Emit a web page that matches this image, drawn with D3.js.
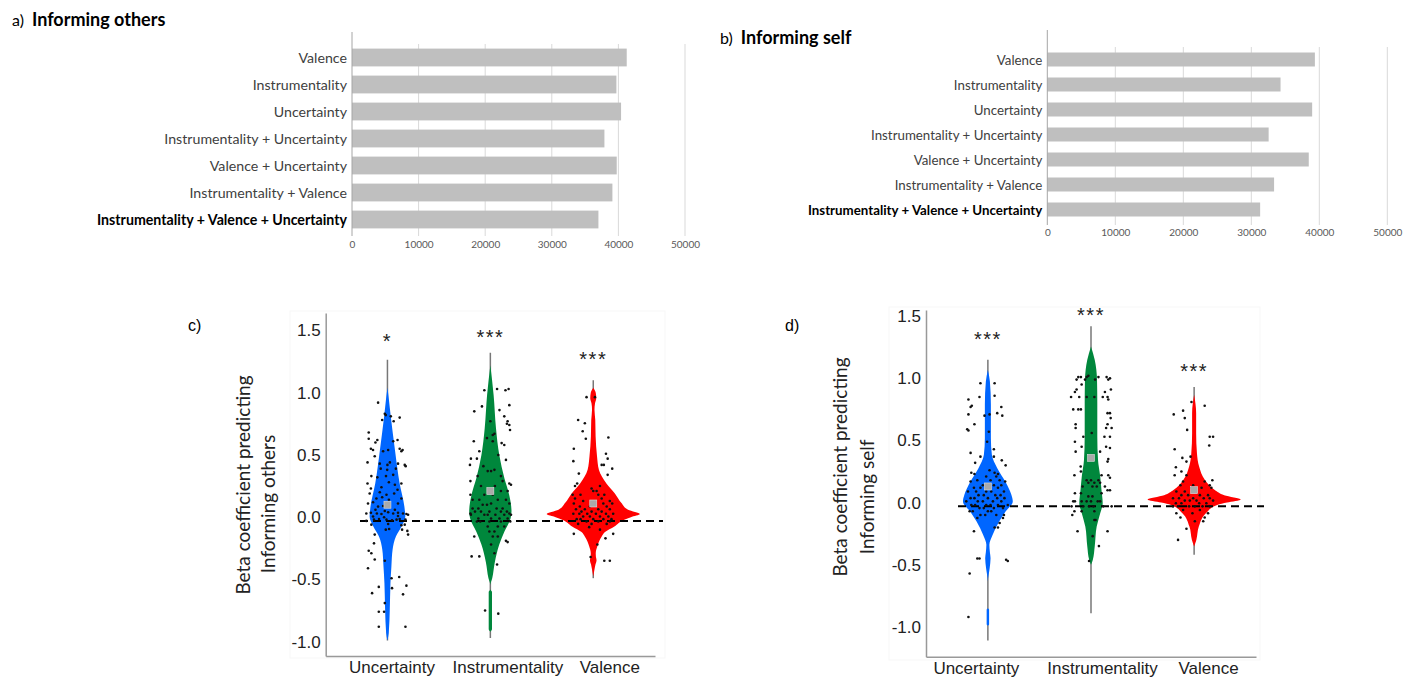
<!DOCTYPE html>
<html>
<head>
<meta charset="utf-8">
<script src="https://cdn.jsdelivr.net/npm/d3@7"></script>
<style>
  body { margin: 0; background: #fff; }
  svg { display: block; font-family: Lato, "Liberation Sans", sans-serif; }
</style>
</head>
<body>
<svg id="chart" width="1403" height="678"></svg>
<script>
// ---- data: model fit (panels a, b) ----
const models = ['Valence', 'Instrumentality', 'Uncertainty', 'Instrumentality + Uncertainty',
  'Valence + Uncertainty', 'Instrumentality + Valence', 'Instrumentality + Valence + Uncertainty'];
const fitOthers = [41250, 39700, 40400, 37900, 39750, 39100, 37000];
const fitSelf = [39350, 34300, 38950, 32550, 38450, 33350, 31300];
const fitTicks = [0, 10000, 20000, 30000, 40000, 50000];

// ---- data: beta coefficients (panels c, d) ----
const predictors = ['Uncertainty', 'Instrumentality', 'Valence'];
const betaTicks = [-1.0, -0.5, 0, 0.5, 1.0, 1.5];
const refBeta = -0.03;
const meansOthers = [0.10, 0.21, 0.11];
const meansSelf = [0.13, 0.36, 0.10];
const rangeOthers = [[-0.99, 1.265], [-0.97, 1.32], [-0.49, 1.10]];
const rangeSelf = [[-1.11, 1.15], [-0.89, 1.42], [-0.42, 0.93]];
const starsOthers = ['*', '***', '***'];
const starsSelf = ['***', '***', '***'];
const starBetaOthers = [1.45, 1.48, 1.30];
const starBetaSelf = [1.35, 1.54, 1.095];

// violin outlines: [beta, relative density]
const densOthersUnc = [[1.04,0],[0.95,0.03],[0.81,0.07],[0.54,0.16],[0.27,0.26],[0.085,0.36],[0.005,0.38],[-0.075,0.30],[-0.155,0.18],[-0.26,0.11],[-0.39,0.085],[-0.53,0.064],[-0.74,0.05],[-0.93,0.028],[-0.99,0]];
const densOthersIns = [[1.22,0],[0.98,0.07],[0.715,0.12],[0.50,0.19],[0.31,0.30],[0.18,0.40],[0.045,0.45],[-0.01,0.43],[-0.115,0.30],[-0.22,0.19],[-0.36,0.096],[-0.49,0.04],[-0.545,0],[-0.58,0],[-0.6,0.035],[-0.9,0.035],[-0.92,0]];
const densOthersVal = [[1.04,0],[1.0,0.053],[0.956,0.064],[0.916,0.038],[0.863,0.026],[0.78,0.043],[0.65,0.05],[0.49,0.08],[0.38,0.12],[0.27,0.28],[0.19,0.46],[0.113,0.6],[0.06,0.74],[0.025,0.99],[0.0,0.8],[-0.02,0.66],[-0.074,0.45],[-0.12,0.25],[-0.155,0.18],[-0.236,0.085],[-0.29,0.053],[-0.32,0.057],[-0.345,0.07],[-0.38,0.047],[-0.42,0.026],[-0.476,0]];
const densSelfUnc = [[1.07,0],[0.975,0.043],[0.79,0.064],[0.52,0.064],[0.385,0.085],[0.277,0.2],[0.17,0.37],[0.063,0.5],[0.009,0.53],[-0.07,0.38],[-0.153,0.24],[-0.26,0.1],[-0.34,0.032],[-0.40,0.043],[-0.447,0.057],[-0.528,0.038],[-0.636,0],[-0.85,0],[-0.86,0.026],[-0.98,0.026],[-0.99,0]];
const densSelfIns = [[1.256,0],[1.149,0.079],[0.988,0.128],[0.8,0.134],[0.532,0.134],[0.344,0.149],[0.21,0.196],[0.102,0.223],[-0.005,0.249],[-0.086,0.196],[-0.193,0.121],[-0.354,0.079],[-0.461,0.038],[-0.5,0]];
const densSelfVal = [[0.867,0],[0.72,0.043],[0.558,0.043],[0.397,0.06],[0.29,0.106],[0.182,0.23],[0.102,0.44],[0.06,0.64],[0.025,0.99],[0.0,0.7],[-0.019,0.49],[-0.086,0.25],[-0.193,0.1],[-0.3,0.047],[-0.354,0]];

// participants: [beta, jitter]
const ptsOthersUnc = [[0.92,-0.39],[0.83,-0.11],[0.82,-0.07],[0.81,0.14],[0.80,0.51],[0.78,-0.22],[0.77,0.26],[0.68,-0.78],
  [0.63,-0.78],[0.62,-0.42],[0.61,0.24],[0.62,0.42],[0.60,-0.5],[0.55,-0.69],[0.54,-0.6],[0.53,-0.18],[0.54,0.03],[0.55,0.51],[0.53,0.58],[0.54,0.63],
  [0.49,-0.53],[0.44,-0.83],[0.43,-0.32],[0.42,0],[0.44,0.1],[0.43,0.44],[0.42,0.72],[0.41,0.76],[0.39,-0.28],[0.38,-0.01],[0.39,0.35],
  [0.33,-0.67],[0.32,-0.42],[0.33,-0.06],[0.34,0.24],[0.27,-0.83],[0.28,0.06],[0.26,0.31],[0.27,0.58],[0.23,-0.69],[0.24,-0.25],[0.22,0.42],
  [0.19,-0.74],[0.20,-0.32],[0.18,-0.04],[0.19,0.28],[0.15,-0.46],[0.16,-0.22],[0.14,0.06],[0.15,0.58],[0.11,-0.81],[0.12,-0.6],[0.11,0.44],
  [0.085,-0.39],[0.09,-0.18],[0.06,-0.5],[0.05,-0.11],[0.06,0.31],[0.03,-0.88],[0.035,-0.69],[0.03,-0.44],[0.025,-0.25],[0.04,0.03],[0.03,0.24],[0.035,0.44],[0.03,0.65],[0.025,0.79],[0.02,0.86],
  [0.005,-0.6],[0.0,-0.14],[0.01,0.44],[-0.02,-0.56],[-0.015,-0.35],[-0.02,-0.04],[-0.025,0.19],[-0.02,0.38],[-0.015,0.51],[-0.02,0.75],[-0.03,-0.88],
  [-0.06,-0.67],[-0.055,0.03],[-0.065,0.58],[-0.06,0.72],[-0.10,-0.07],[-0.095,0.07],[-0.10,0.61],[-0.11,0.83],[-0.14,-0.53],[-0.14,0.86],
  [-0.21,-0.56],[-0.27,-0.78],[-0.29,-0.67],[-0.34,-0.53],[-0.35,-0.11],[-0.41,-0.81],[-0.49,0.17],[-0.48,0.49],[-0.56,-0.36],[-0.57,0.19],[-0.55,0.79],
  [-0.61,-0.64],[-0.62,0.65],[-0.69,-0.11],[-0.76,-0.36],[-0.76,-0.14],[-0.88,-0.36],[-0.88,0.75]];
const ptsOthersIns = [[1.02,-0.25],[1.03,0.28],[1.02,0.63],[1.03,0.76],[0.89,-0.35],[0.90,0.79],[0.86,0.38],[0.85,-0.67],[0.81,0.58],[0.77,0],[0.77,0.72],[0.74,0.79],[0.75,0.69],[0.70,0.82],
  [0.66,0.10],[0.67,0.17],[0.635,-0.14],[0.61,-0.69],[0.61,0.10],[0.595,0.47],[0.58,0.58],[0.53,-0.46],[0.50,0.33],[0.47,-0.81],[0.47,-0.56],[0.46,0.65],
  [0.42,-0.85],[0.41,-0.29],[0.37,-0.11],[0.37,0.03],[0.38,0.17],[0.33,-0.53],[0.33,0.44],[0.29,-0.83],[0.29,0.51],[0.27,0.79],[0.26,0.86],[0.25,-0.39],[0.25,0.19],
  [0.21,0.44],[0.21,0.72],[0.18,-0.83],[0.18,-0.25],[0.18,0.10],[0.14,-0.74],[0.14,-0.46],[0.14,0.31],[0.14,0.65],[0.11,0.03],[0.11,0.79],[0.10,-0.32],[0.10,-0.14],
  [0.07,-0.74],[0.07,-0.5],[0.07,0.26],[0.07,0.51],[0.045,-0.64],[0.045,-0.39],[0.045,-0.04],[0.045,0.44],[0.045,0.69],[0.03,-0.83],[0.03,0.79],
  [0.02,-0.81],[0.02,-0.25],[0.02,-0.11],[0.02,0.21],[0.02,0.58],[0.02,0.86],[-0.01,-0.5],[-0.01,0.03],[-0.01,0.38],[-0.01,0.72],
  [-0.035,-0.56],[-0.035,-0.42],[-0.035,-0.04],[-0.035,0.44],[-0.035,0.83],[-0.075,-0.11],[-0.075,0.31],[-0.075,0.58],[-0.115,-0.04],[-0.115,0.17],
  [-0.155,-0.67],[-0.155,0.10],[-0.155,0.31],[-0.19,0.65],[-0.20,0.72],[-0.22,0.03],[-0.29,0.17],[-0.315,-0.78],[-0.315,-0.46],[-0.38,0.28],[-0.75,-0.22],[-0.775,0.33]];
const ptsOthersVal = [[0.964,-0.28],[0.964,0.07],[0.78,-0.63],[0.755,-0.35],[0.69,-0.44],[0.64,0.63],[0.63,-0.31],[0.55,-0.81],[0.51,0.53],[0.47,0.6],[0.45,-0.83],[0.42,0.35],[0.42,0.44],[0.39,0.79],
  [0.35,-0.6],[0.34,0.6],[0.27,-0.67],[0.25,-0.76],[0.25,0.28],[0.23,-0.07],[0.21,0],[0.21,0.14],[0.18,-0.86],[0.18,-0.53],[0.18,0.21],[0.18,0.46],[0.15,-0.76],[0.15,0.35],[0.13,-0.42],[0.13,0.69],
  [0.11,-0.81],[0.11,0.07],[0.11,0.42],[0.11,0.79],[0.086,-0.56],[0.086,-0.14],[0.086,0.56],[0.064,-0.72],[0.064,-0.35],[0.064,0.21],[0.064,0.69],[0.045,-0.49],[0.045,-0.07],[0.045,0.35],
  [0.027,-0.83],[0.027,-0.58],[0.027,-0.25],[0.027,0.11],[0.027,0.53],[0.027,0.83],[0.005,-0.42],[0.005,-0.14],[0.005,0.28],[0.005,0.63],
  [-0.016,-0.69],[-0.016,-0.53],[-0.016,0],[-0.016,0.42],[-0.016,0.76],[-0.035,-0.28],[-0.035,0.21],[-0.035,0.69],[-0.054,-0.63],[-0.054,-0.07],[-0.054,0.56],
  [-0.08,-0.17],[-0.10,0.28],[-0.134,-0.81],[-0.134,0.83],[-0.17,0.51],[-0.22,0.17],[-0.32,-0.11],[-0.35,0.46],[-0.35,0.69]];
const ptsSelfUnc = [[0.96,-0.31],[0.96,0.28],[0.85,-0.35],[0.86,0.28],[0.83,-0.81],[0.77,-0.72],[0.78,-0.67],[0.77,0.56],[0.71,-0.81],[0.70,-0.14],[0.71,0.07],[0.72,0.39],[0.70,0.6],
  [0.63,-0.56],[0.59,-0.86],[0.58,-0.81],[0.57,0.04],[0.49,-0.03],[0.43,0.25],[0.40,-0.72],[0.37,-0.31],[0.37,0.25],[0.34,0.58],[0.32,-0.53],[0.30,0.74],[0.26,0.07],
  [0.24,-0.69],[0.23,-0.56],[0.24,0.28],[0.23,0.42],[0.21,-0.07],[0.21,0.35],[0.18,-0.44],[0.18,0.11],[0.18,0.49],[0.17,-0.72],[0.17,0.72],
  [0.14,-0.21],[0.14,0],[0.14,0.25],[0.14,0.56],[0.12,-0.58],[0.12,-0.31],[0.12,0.42],[0.09,-0.83],[0.09,-0.49],[0.09,-0.07],[0.09,0.14],[0.09,0.67],
  [0.06,-0.39],[0.06,-0.17],[0.06,0.31],[0.06,0.53],[0.036,-0.72],[0.036,-0.56],[0.036,0],[0.036,0.39],[0.036,0.69],[0.01,-0.9],[0.01,-0.42],[0.01,-0.21],[0.01,0.21],[0.01,0.56],
  [-0.02,-0.69],[-0.02,-0.53],[-0.02,-0.07],[-0.02,0.11],[-0.02,0.42],[-0.02,0.83],[-0.044,-0.35],[-0.044,-0.17],[-0.044,0.25],[-0.044,0.63],
  [-0.07,-0.76],[-0.07,-0.63],[-0.07,0],[-0.07,0.14],[-0.1,-0.31],[-0.1,-0.11],[-0.1,0.35],[-0.1,0.67],[-0.124,-0.44],[-0.124,0.63],[-0.164,0.49],
  [-0.2,0.28],[-0.2,0.42],[-0.23,-0.58],[-0.45,-0.44],[-0.45,-0.35],[-0.47,0.83],[-0.46,0.76],[-0.57,-0.76],[-0.92,-0.81]];
const ptsSelfIns = [[1.01,-0.53],[1.01,-0.42],[1.01,-0.18],[1.02,-0.11],[1.01,0.31],[1.01,0.65],[1.0,0.79],[0.99,-0.6],[0.99,-0.25],[0.99,0.17],[0.99,0.72],[0.95,-0.39],[0.91,-0.6],[0.91,0.83],[0.89,-0.67],[0.89,0.58],
  [0.85,-0.83],[0.85,-0.49],[0.85,-0.18],[0.85,0.14],[0.85,0.49],[0.85,0.69],[0.83,0.72],[0.75,-0.74],[0.75,-0.53],[0.75,-0.42],[0.72,0.69],[0.72,0.79],[0.68,0.82],
  [0.63,-0.64],[0.63,0.69],[0.60,-0.64],[0.60,0.63],[0.60,0.86],[0.56,0.03],[0.53,-0.32],[0.53,0.56],[0.53,0.79],[0.49,-0.67],[0.45,-0.39],[0.45,0.63],[0.44,0.79],[0.41,-0.64],[0.41,0.38],
  [0.35,0.72],[0.33,0.69],[0.29,-0.43],[0.25,-0.42],[0.22,-0.69],[0.22,0.44],[0.22,0.72],[0.20,0.79],[0.18,-0.18],[0.18,0],[0.18,0.31],[0.16,-0.11],[0.16,0.14],[0.16,0.38],
  [0.13,-0.35],[0.13,0.06],[0.13,0.24],[0.13,0.58],[0.10,0.69],[0.10,0.79],[0.075,-0.67],[0.075,-0.42],[0.075,0.44],[0.05,-0.11],[0.05,0.06],
  [0.01,-0.74],[0.01,-0.67],[0.01,-0.39],[0.01,-0.18],[0.01,0],[0.01,0.28],[0.01,0.38],[-0.03,-0.81],[-0.03,-0.32],[-0.03,-0.08],[-0.03,0.1],[-0.03,0.51],[-0.03,0.86],
  [-0.07,-0.69],[-0.07,-0.39],[-0.07,0.14],[-0.10,-0.78],[-0.14,0.14],[-0.14,0.19],[-0.23,-0.56],[-0.23,0.69],[-0.27,0.07],[-0.35,0.33],[-0.47,-0.08]];
const ptsSelfVal = [[0.81,-0.11],[0.78,0.44],[0.74,-0.46],[0.71,-0.85],[0.68,-0.39],[0.585,-0.29],[0.53,0.65],[0.53,0.79],[0.46,0.63],[0.43,-0.81],[0.37,-0.15],[0.36,-0.49],[0.33,-0.32],
  [0.285,-0.76],[0.25,-0.53],[0.22,-0.81],[0.22,-0.32],[0.18,0.76],[0.17,-0.46],[0.17,0.44],[0.14,-0.57],[0.14,-0.04],[0.14,0.65],[0.12,-0.11],[0.12,0.31],[0.12,0.72],
  [0.09,-0.74],[0.09,-0.39],[0.09,0.07],[0.06,-0.53],[0.06,-0.25],[0.06,0.24],[0.06,0.58],[0.035,-0.88],[0.035,-0.63],[0.035,-0.04],[0.035,0.4],[0.035,0.65],
  [0.016,-0.39],[0.016,-0.18],[0.016,0.1],[0.016,0.79],[-0.005,-0.76],[-0.005,-0.53],[-0.005,0.21],[-0.005,0.51],
  [-0.03,-0.88],[-0.03,-0.67],[-0.03,-0.21],[-0.03,0.03],[-0.03,0.35],[-0.03,0.65],[-0.06,-0.46],[-0.06,0.24],[-0.086,-0.74],[-0.086,-0.07],[-0.086,0.58],
  [-0.12,-0.57],[-0.12,0.44],[-0.15,0.03],[-0.15,0.38],[-0.21,-0.32],[-0.30,-0.67]];

const violinColors = ['#0066ff', '#00873c', '#ff0000'];

const svg = d3.select('#chart');

// horizontal bar chart of model fit
function drawBars(cfg, values) {
  const g = svg.append('g');
  const x = d3.scaleLinear().domain([0, 50000]).range([cfg.left, cfg.right]);
  const y = d3.scaleBand().domain(models).range([cfg.top, cfg.bottom])
    .paddingInner(cfg.padIn).paddingOuter(cfg.padOut);

  // vertical gridlines
  g.append('g').selectAll('line').data(fitTicks.slice(1)).join('line')
    .attr('x1', d => x(d)).attr('x2', d => x(d))
    .attr('y1', cfg.top).attr('y2', cfg.bottom + 3)
    .attr('stroke', '#d9d9d9');

  // bars
  g.append('g').selectAll('rect').data(values).join('rect')
    .attr('x', x(0))
    .attr('y', (d, i) => y(models[i]))
    .attr('width', d => x(d) - x(0))
    .attr('height', y.bandwidth())
    .attr('fill', '#bfbfbf');

  // category axis line
  g.append('line')
    .attr('x1', x(0)).attr('x2', x(0))
    .attr('y1', cfg.axisTop).attr('y2', cfg.bottom + 3)
    .attr('stroke', '#a6a6a6');

  // category labels, best model in bold
  const last = models.length - 1;
  g.append('g').selectAll('text').data(models).join('text')
    .attr('x', x(0) - 5)
    .attr('y', d => y(d) + y.bandwidth() / 2)
    .attr('text-anchor', 'end')
    .attr('dominant-baseline', 'central')
    .style('font-size', cfg.labelSize + 'px')
    .style('font-weight', (d, i) => i === last ? 'bold' : 'normal')
    .attr('fill', (d, i) => i === last ? '#000' : '#404040')
    .text(d => d);

  // value axis labels
  const xAxis = svg.append('g')
    .attr('transform', `translate(0,${cfg.tickY})`)
    .call(d3.axisBottom(x).tickValues(fitTicks).tickSize(0).tickPadding(0).tickFormat(d3.format('d')));
  xAxis.select('.domain').remove();
  xAxis.selectAll('text')
    .style('font-family', 'Lato, sans-serif')
    .style('font-size', '10px')
    .attr('fill', '#595959');

  // panel title
  const t = svg.append('text').attr('x', cfg.titleX).attr('y', cfg.titleY).attr('fill', '#000');
  t.append('tspan').style('font-size', '16px').text(cfg.letter);
  t.append('tspan').attr('dx', 8).style('font-size', '18px').style('font-weight', 'bold').text(cfg.title);
}

// violin plot of beta coefficients with jittered participants
function drawViolins(cfg, dens, pts, means, ranges, stars, starBeta) {
  const g = svg.append('g');
  const x = d3.scalePoint().domain(predictors).range([cfg.left, cfg.right]).padding(0.6);
  const y = d3.scaleLinear().domain(cfg.domain).range([cfg.bottom, cfg.top]);
  const w = d3.scaleLinear().domain([0, 1]).range([0, 47]);
  const jit = d3.scaleLinear().domain([-1, 1]).range([-24, 24]);

  // faint plot frame
  g.append('rect')
    .attr('x', cfg.frame[0]).attr('y', cfg.frame[1])
    .attr('width', cfg.frame[2]).attr('height', cfg.frame[3])
    .attr('fill', 'none').attr('stroke', '#f7f7f7');

  predictors.forEach((p, i) => {
    const cx = x(p);
    // whisker
    g.append('line')
      .attr('x1', cx).attr('x2', cx)
      .attr('y1', y(ranges[i][0])).attr('y2', y(ranges[i][1]))
      .attr('stroke', '#777').attr('stroke-width', 1.5);
    // violin body
    const area = d3.area()
      .y(d => y(d[0]))
      .x0(d => cx - w(d[1]))
      .x1(d => cx + w(d[1]))
      .curve(d3.curveMonotoneY);
    g.append('path').datum(dens[i]).attr('d', area).attr('fill', violinColors[i]);
  });

  // reference line
  g.append('line')
    .attr('x1', cfg.dashStart).attr('x2', cfg.right + 8)
    .attr('y1', y(refBeta)).attr('y2', y(refBeta))
    .attr('stroke', '#000').attr('stroke-width', 2).attr('stroke-dasharray', '8,5');

  // participants
  predictors.forEach((p, i) => {
    g.append('g').selectAll('circle').data(pts[i]).join('circle')
      .attr('cx', d => x(p) + jit(d[1]))
      .attr('cy', d => y(d[0]))
      .attr('r', 1.3)
      .attr('fill', '#111');
  });

  // group means
  g.append('g').selectAll('rect').data(means).join('rect')
    .attr('x', (d, i) => x(predictors[i]) - 3.5)
    .attr('y', d => y(d) - 3.5)
    .attr('width', 7).attr('height', 7)
    .attr('fill', '#aaa').attr('stroke', '#ddd').attr('stroke-width', 0.6);

  // significance stars
  g.append('g').selectAll('text').data(stars).join('text')
    .attr('x', (d, i) => x(predictors[i]))
    .attr('y', (d, i) => y(starBeta[i]))
    .attr('dy', '0.55em')
    .attr('text-anchor', 'middle')
    .style('font-family', '"Liberation Sans", Arial, sans-serif')
    .style('font-size', '20px')
    .style('letter-spacing', '1.5px')
    .attr('fill', '#222')
    .text(d => d);

  // y axis
  const yAxis = svg.append('g')
    .attr('transform', `translate(${cfg.left},0)`)
    .call(d3.axisLeft(y).tickValues(betaTicks).tickSize(0).tickPadding(5).tickFormat(d => d.toFixed(1)));
  yAxis.select('.domain').attr('stroke', '#999').attr('stroke-width', 1.5);
  yAxis.selectAll('text')
    .style('font-family', '"Liberation Sans", Arial, sans-serif')
    .style('font-size', '17px')
    .attr('fill', '#222');

  // x axis
  const xAxis = svg.append('g')
    .attr('transform', `translate(0,${cfg.bottom})`)
    .call(d3.axisBottom(x).tickSize(0).tickPadding(5));
  xAxis.select('.domain').attr('stroke', '#999').attr('stroke-width', 1.5);
  xAxis.selectAll('text')
    .attr('x', (d, i) => cfg.labelNudge[i])
    .style('font-family', '"Liberation Sans", Arial, sans-serif')
    .style('font-size', '17px')
    .attr('fill', '#222');

  // y axis title, two lines
  cfg.yTitle.forEach((line, i) => {
    svg.append('text')
      .attr('transform', `translate(${cfg.yTitleX[i]},${cfg.yTitleY[i]}) rotate(-90)`)
      .attr('text-anchor', 'middle')
      .attr('dominant-baseline', 'central')
      .style('font-size', '19px')
      .attr('fill', '#222')
      .text(line);
  });

  // panel letter
  svg.append('text')
    .attr('x', cfg.letterX).attr('y', 325)
    .attr('dominant-baseline', 'central')
    .style('font-family', '"Liberation Sans", Arial, sans-serif')
    .style('font-size', '16px')
    .text(cfg.letter);
}

drawBars({ left: 352, right: 685, top: 44, bottom: 233, padIn: 0.34, padOut: 0.17, axisTop: 32,
  labelSize: 14.2, tickY: 241, titleX: 12, titleY: 26, letter: 'a)', title: 'Informing others' }, fitOthers);
drawBars({ left: 1047.3, right: 1387.3, top: 47, bottom: 222, padIn: 0.44, padOut: 0.22, axisTop: 30,
  labelSize: 13.3, tickY: 229, titleX: 720, titleY: 44, letter: 'b)', title: 'Informing self' }, fitSelf);

drawViolins({ left: 325.7, right: 655, top: 313, bottom: 656, domain: [-1.115, 1.64],
  frame: [290, 311, 375, 347], dashStart: 360, labelNudge: [4, 17, 16],
  yTitle: ['Beta coefficient predicting', 'Informing others'], yTitleX: [242, 267], yTitleY: [485, 504], letterX: 188, letter: 'c)' },
  [densOthersUnc, densOthersIns, densOthersVal], [ptsOthersUnc, ptsOthersIns, ptsOthersVal],
  meansOthers, rangeOthers, starsOthers, starBetaOthers);

drawViolins({ left: 926, right: 1256, top: 310, bottom: 656.7, domain: [-1.24, 1.55],
  frame: [889, 307, 371, 353], dashStart: 958, labelNudge: [-12, 11, 14],
  yTitle: ['Beta coefficient predicting', 'Informing self'], yTitleX: [839, 866], yTitleY: [467, 497], letterX: 785, letter: 'd)' },
  [densSelfUnc, densSelfIns, densSelfVal], [ptsSelfUnc, ptsSelfIns, ptsSelfVal],
  meansSelf, rangeSelf, starsSelf, starBetaSelf);
</script>
</body>
</html>
